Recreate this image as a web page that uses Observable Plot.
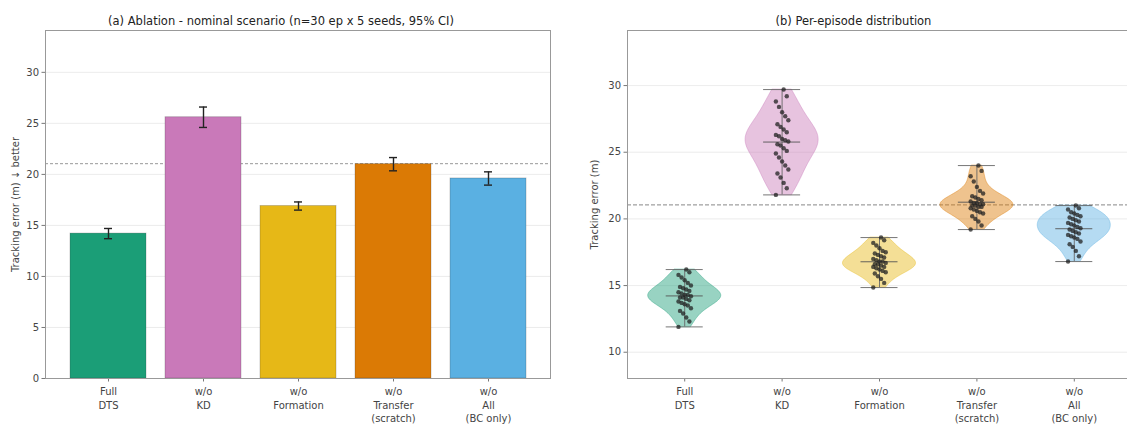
<!DOCTYPE html>
<html><head><meta charset="utf-8">
<script src="https://cdn.jsdelivr.net/npm/d3@7"></script>
<script src="https://cdn.jsdelivr.net/npm/@observablehq/plot@0.6"></script>
<style>
html,body{margin:0;padding:0;background:#fff;width:1127px;height:427px;overflow:hidden;}
#wrap{display:flex;flex-direction:row;width:1140px;}
#wrap > div{flex:none;}
</style>
</head><body><div id="wrap"><div id="a"></div><div id="b"></div></div>
<script>
// ---------- data ----------
const categories = ["Full\nDTS", "w/o\nKD", "w/o\nFormation", "w/o\nTransfer\n(scratch)", "w/o\nAll\n(BC only)"];
const barMeans = [14.2, 25.6, 16.9, 21.0, 19.6];
const barCI = [0.5, 1.0, 0.4, 0.65, 0.65];
const refValue = 21.05;
const colors = ["#1b9e77", "#c979b9", "#e6b817", "#db7a05", "#5ab0e2"];
const yTicksA = [0, 5, 10, 15, 20, 25, 30];
const yTicksB = [10, 15, 20, 25, 30];
const titleA = "(a) Ablation - nominal scenario (n=30 ep x 5 seeds, 95% CI)";
const titleB = "(b) Per-episode distribution";
const yLabelA = "Tracking error (m) \u2193 better";
const yLabelB = "Tracking error (m)";

const epFull = [11.9, 12.3, 12.6, 12.9, 13.1, 13.3, 13.5, 13.6, 13.7, 13.8, 13.9, 14.0, 14.1, 14.1, 14.2, 14.3, 14.3, 14.4, 14.5, 14.6, 14.7, 14.8, 14.9, 15.0, 15.2, 15.4, 15.6, 15.8, 16.0, 16.2];
const epKD = [21.8, 22.3, 22.7, 23.1, 23.4, 23.7, 24.0, 24.3, 24.6, 24.9, 25.1, 25.3, 25.5, 25.6, 25.8, 25.9, 26.0, 26.2, 26.3, 26.5, 26.7, 26.9, 27.1, 27.4, 27.7, 28.0, 28.4, 28.8, 29.2, 29.7];
const epFormation = [14.85, 15.2, 15.5, 15.7, 15.9, 16.0, 16.1, 16.2, 16.3, 16.4, 16.4, 16.5, 16.6, 16.6, 16.7, 16.8, 16.8, 16.9, 17.0, 17.1, 17.2, 17.3, 17.4, 17.5, 17.6, 17.8, 18.0, 18.2, 18.4, 18.6];
const epTransfer = [19.2, 19.5, 19.8, 20.0, 20.2, 20.4, 20.5, 20.6, 20.7, 20.8, 20.9, 20.9, 21.0, 21.0, 21.1, 21.1, 21.2, 21.2, 21.3, 21.4, 21.5, 21.6, 21.7, 21.9, 22.1, 22.4, 22.8, 23.2, 23.6, 24.0];
const epAll = [16.8, 17.2, 17.6, 17.9, 18.1, 18.3, 18.5, 18.6, 18.7, 18.8, 18.9, 19.0, 19.1, 19.2, 19.3, 19.4, 19.5, 19.6, 19.7, 19.8, 19.9, 20.0, 20.1, 20.2, 20.3, 20.4, 20.5, 20.7, 20.8, 21.0];

// ---------- shared style ----------
const font = "DejaVu Sans, sans-serif";
const axisStyle = {fontFamily: font, fontSize: "10px", color: "#444", background: "#fff"};

// ---------- panel (a) ----------
const barData = categories.map((c, i) => ({cat: c, mean: barMeans[i], lo: barMeans[i] - barCI[i], hi: barMeans[i] + barCI[i]}));
const A = Plot.plot({
  width: 563, height: 427,
  marginLeft: 45, marginRight: 13, marginTop: 30, marginBottom: 49,
  style: axisStyle,
  x: {type: "band", domain: categories, paddingInner: 0.2, paddingOuter: 0.24, axis: null},
  y: {domain: [0, 34.1], axis: null},
  color: {domain: categories, range: colors},
  marks: [
    Plot.gridY(yTicksA.filter(d => d > 0), {stroke: "#e4e4e4", strokeOpacity: 1, strokeWidth: 0.7}),
    Plot.ruleY([refValue], {stroke: "#999", strokeDasharray: "3,2", strokeWidth: 1}),
    Plot.barY(barData, {x: "cat", y: "mean", fill: "cat", stroke: "#333", strokeOpacity: 0.3, strokeWidth: 0.8}),
    Plot.ruleX(barData, {x: "cat", y1: "lo", y2: "hi", stroke: "#222", strokeWidth: 1.4}),
    Plot.tickY(barData, {x: "cat", y: "lo", stroke: "#222", strokeWidth: 1.4, insetLeft: 34, insetRight: 34}),
    Plot.tickY(barData, {x: "cat", y: "hi", stroke: "#222", strokeWidth: 1.4, insetLeft: 34, insetRight: 34}),
    Plot.axisY({ticks: yTicksA, tickSize: 3.5, tickPadding: 3, stroke: "#777", fill: "#444",
      label: yLabelA, labelAnchor: "center", labelOffset: 34, labelArrow: "none"}),
    Plot.axisX({tickSize: 3.5, tickPadding: 3, stroke: "#777", fill: "#444", lineHeight: 1.38, label: null}),
    Plot.frame({stroke: "#999"}),
    Plot.text([titleA], {frameAnchor: "top", dy: -14, dx: -17, fontSize: 11.5, fill: "#222", fontFamily: font})
  ]
});
document.getElementById("a").appendChild(A);

// ---------- panel (b) ----------
const series = [epFull, epKD, epFormation, epTransfer, epAll];
const halfWidth = 0.375;
const violinRows = [];
series.forEach((vals, k) => {
  const n = vals.length, sd = d3.deviation(vals), bw = sd * Math.pow(n, -1 / 5);
  const lo = d3.min(vals), hi = d3.max(vals);
  const grid = d3.range(0, 101).map(i => lo + (hi - lo) * i / 100);
  const dens = grid.map(y => d3.sum(vals, v => Math.exp(-0.5 * ((y - v) / bw) ** 2)));
  const m = d3.max(dens);
  grid.forEach((y, i) => violinRows.push({k, y, x1: k + 1 - halfWidth * dens[i] / m, x2: k + 1 + halfWidth * dens[i] / m}));
});
const pts = series.flatMap((vals, k) => vals.map((v, i) => ({k, v, x: k + 1 + (((i * 7) % 9) - 4) * 0.016})));
const stats = series.map((vals, k) => ({k, pos: k + 1, min: d3.min(vals), max: d3.max(vals), mean: d3.mean(vals)}));
const cap = 0.19;

const B = Plot.plot({
  width: 568, height: 427,
  marginLeft: 64, marginRight: 0, marginTop: 30, marginBottom: 49,
  style: axisStyle,
  x: {type: "linear", domain: [0.4125, 5.5875], axis: null},
  y: {domain: [8.03, 34.13], axis: null},
  color: {type: "ordinal", domain: [0, 1, 2, 3, 4], range: colors},
  marks: [
    Plot.gridY(yTicksB, {stroke: "#e4e4e4", strokeOpacity: 1, strokeWidth: 0.7}),
    Plot.ruleY([refValue], {stroke: "#888", strokeDasharray: "4,2", strokeWidth: 1}),
    Plot.areaX(violinRows, {y: "y", x1: "x1", x2: "x2", z: "k", fill: "k", fillOpacity: 0.45, stroke: "k", strokeOpacity: 0.5, strokeWidth: 0.8}),
    Plot.ruleX(stats, {x: "pos", y1: "min", y2: "max", stroke: "#666", strokeWidth: 0.9}),
    Plot.ruleY(stats, {y: "min", x1: d => d.pos - cap, x2: d => d.pos + cap, stroke: "#666", strokeWidth: 0.9}),
    Plot.ruleY(stats, {y: "max", x1: d => d.pos - cap, x2: d => d.pos + cap, stroke: "#666", strokeWidth: 0.9}),
    Plot.ruleY(stats, {y: "mean", x1: d => d.pos - cap, x2: d => d.pos + cap, stroke: "#555", strokeWidth: 0.9}),
    Plot.dot(pts, {x: "x", y: "v", r: 2.2, fill: "#222", fillOpacity: 0.75, stroke: "none"}),
    Plot.axisY({ticks: yTicksB, tickSize: 3.5, tickPadding: 3, stroke: "#777", fill: "#444",
      label: yLabelB, labelAnchor: "center", labelOffset: 37, labelArrow: "none"}),
    Plot.axisX({ticks: [1, 2, 3, 4, 5], tickFormat: d => categories[d - 1], tickSize: 3.5, tickPadding: 3,
      stroke: "#777", fill: "#444", lineHeight: 1.38, label: null}),
    Plot.frame({stroke: "#999"}),
    Plot.text([titleB], {frameAnchor: "top", dy: -14, dx: -26, fontSize: 11.5, fill: "#222", fontFamily: font})
  ]
});
document.getElementById("b").appendChild(B);
</script>
</body></html>
